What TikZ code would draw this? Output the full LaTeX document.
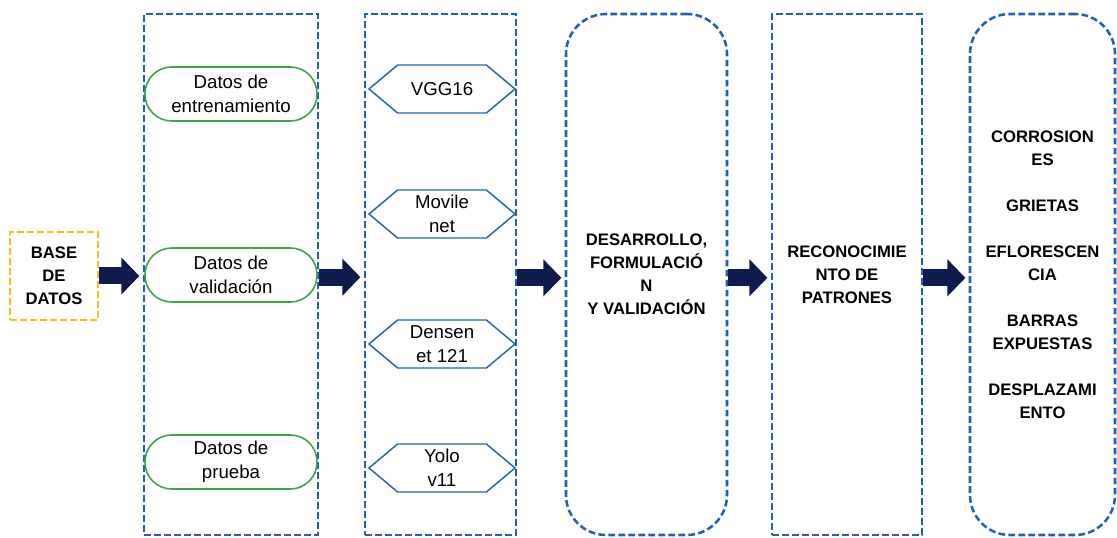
\documentclass[tikz,border=0pt]{standalone}
\usepackage{fontspec}
\setmainfont{Liberation Sans}
\usetikzlibrary{arrows.meta,shapes.symbols}
\definecolor{frameblue}{HTML}{1F5FBF}
\definecolor{hexblue}{HTML}{2464B4}
\definecolor{rowgreen}{HTML}{3AA845}
\definecolor{dbyellow}{HTML}{F2C018}
\definecolor{navy}{HTML}{0F1B4C}
\tikzset{
  txt/.style={font=\fontsize{14}{18}\selectfont},
  bold/.style={font=\fontsize{12.5}{17.25}\selectfont\bfseries},
  frame/.style={draw=frameblue, line width=1.9pt, dash pattern=on 5pt off 2.5pt,
    minimum height=390.75pt, align=center, bold},
  stadium/.style={draw=rowgreen, line width=1.2pt, rounded corners=20pt,
    minimum width=129pt, minimum height=40.5pt, align=center, txt},
  hex/.style={signal, signal to=west and east, signal pointer angle=80,
    draw=hexblue, line width=1.1pt, minimum width=109.5pt, minimum height=36pt,
    align=center, txt},
  flow/.style={draw=navy, line width=12.75pt, -{Triangle[length=13.5pt,width=27pt]},
    shorten >=2.5pt}
}
\begin{document}
\begin{tikzpicture}[x=0.75pt,y=-0.75pt, every node/.style={inner sep=0pt}]
  \useasboundingbox (0,0) rectangle (1117,538);

  % base de datos
  \node[draw=dbyellow, line width=1.6pt, dash pattern=on 5pt off 2.5pt,
    minimum width=66pt, minimum height=66pt, align=center, bold]
    (db) at (54,276) {BASE\\DE\\DATOS};

  % columnas
  \node[frame, minimum width=130.5pt] (c1) at (231,274.5) {};
  \node[frame, minimum width=113.25pt] (c2) at (440.5,274.5) {};
  \node[frame, minimum width=120.75pt, rounded corners=30pt] (c3) at (646.5,274.5)
    {DESARROLLO,\\FORMULACIÓ\\N\\Y VALIDACIÓN};
  \node[frame, minimum width=112.5pt] (c4) at (847,274.5)
    {RECONOCIMIE\\NTO DE\\PATRONES};
  \node[frame, minimum width=108.75pt, rounded corners=30pt] (c5) at (1042.5,274.5)
    {CORROSION\\ES\\[17.25pt]GRIETAS\\[17.25pt]EFLORESCEN\\CIA\\[17.25pt]BARRAS\\EXPUESTAS\\[17.25pt]DESPLAZAMI\\ENTO};

  % datos
  \node[stadium] (d1) at (231,94) {Datos de\\entrenamiento};
  \node[stadium] (d2) at (231,275) {Datos de\\validación};
  \node[stadium] (d3) at (231,462) {Datos de\\prueba};

  % modelos
  \node[hex] (m1) at (442,89) {VGG16};
  \node[hex] (m2) at (442,214) {Movile\\net};
  \node[hex] (m3) at (442,344) {Densen\\et 121};
  \node[hex] (m4) at (442,468) {Yolo\\v11};

  % flechas
  \draw[flow] (db.east) -- (c1.west |- db.east);
  \draw[flow] ([yshift=-2pt]c1.east) -- ([yshift=-2pt]c2.west);
  \draw[flow] ([yshift=-2.5pt]c2.east) -- ([yshift=-2.5pt]c3.west);
  \draw[flow] ([yshift=-2.5pt]c3.east) -- ([yshift=-2.5pt]c4.west);
  \draw[flow] ([yshift=-2.5pt]c4.east) -- ([yshift=-2.5pt]c5.west);
\end{tikzpicture}
\end{document}
